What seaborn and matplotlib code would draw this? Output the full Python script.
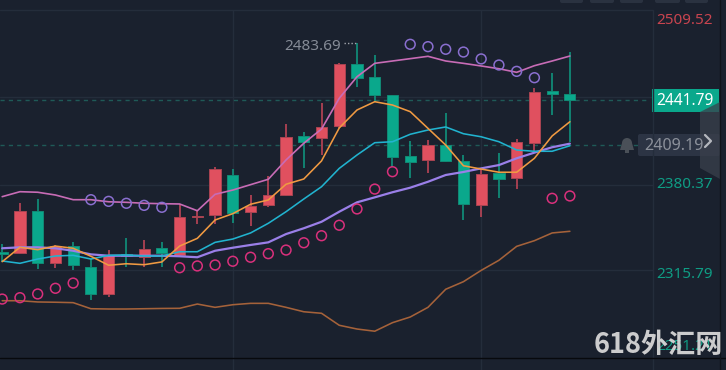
import numpy as np
import pandas as pd
import matplotlib
matplotlib.use('Agg')
import matplotlib.pyplot as plt
from matplotlib.patches import FancyBboxPatch, Polygon, Rectangle, Circle
import seaborn as sns

# candles
opens = [2332.2, 2331.3, 2361.9, 2324.2, 2336.6, 2321.1, 2301.6, 2330.6, 2328.6, 2334.9, 2329.8, 2357.7, 2358.6,
         2387.6, 2361.2, 2365.8, 2373.3, 2416.3, 2414.8, 2423.1, 2468.0, 2458.8, 2445.5, 2401.8, 2398.4, 2409.5,
         2398.2, 2365.8, 2389.0, 2385.8, 2411.2, 2448.9, 2446.5]
highs = [2337.8, 2367.7, 2370.4, 2337.1, 2339.5, 2326.9, 2333.4, 2342.1, 2340.7, 2339.5, 2366.8, 2362.4, 2393.8,
         2392.1, 2373.3, 2387.3, 2424.7, 2419.2, 2439.7, 2468.7, 2483.69, 2474.5, 2445.8, 2412.6, 2413.2, 2432.5,
         2402.1, 2391.9, 2403.5, 2413.7, 2450.6, 2461.5, 2477.1]
lows = [2324.8, 2330.6, 2319.7, 2320.6, 2318.9, 2297.2, 2299.4, 2321.3, 2321.1, 2321.3, 2329.1, 2352.3, 2352.3,
        2353.0, 2351.0, 2364.8, 2372.9, 2393.1, 2402.3, 2421.6, 2451.8, 2440.9, 2393.8, 2385.8, 2389.5, 2397.4,
        2355.2, 2357.6, 2371.3, 2377.6, 2403.7, 2431.1, 2411.9]
closes = [2330.6, 2361.9, 2324.2, 2336.6, 2322.4, 2301.3, 2329.8, 2329.1, 2334.2, 2331.3, 2357.6, 2358.4, 2392.1,
          2360.3, 2365.5, 2373.1, 2415.5, 2411.9, 2422.6, 2468.0, 2458.3, 2445.5, 2401.1, 2397.4, 2409.8, 2398.2,
          2366.8, 2388.3, 2384.9, 2411.7, 2448.2, 2446.5, 2441.79]

# lines
boll_up = [2372.1, 2375.7, 2375.3, 2373.3, 2369.9, 2369.9, 2368.4, 2368.0, 2367.3, 2367.0, 2366.8, 2361.9, 2373.8,
           2376.9, 2380.8, 2384.7, 2398.7, 2410.8, 2421.1, 2443.4, 2459.0, 2468.7, 2470.4, 2472.1, 2473.8, 2470.4,
           2468.7, 2466.8, 2464.8, 2462.2, 2467.0, 2470.4, 2474.0]
ma_fast = [2325.0, 2335.4, 2333.7, 2336.3, 2334.7, 2328.9, 2322.4, 2323.5, 2322.8, 2324.8, 2336.3, 2341.9, 2355.2,
           2359.8, 2366.6, 2369.7, 2381.1, 2384.9, 2398.0, 2421.9, 2434.9, 2440.9, 2438.5, 2433.7, 2421.6, 2409.5,
           2394.5, 2392.1, 2389.8, 2389.8, 2399.9, 2416.1, 2426.4]
ma_mid = [2325.5, 2323.8, 2326.9, 2329.1, 2329.6, 2326.9, 2329.6, 2329.8, 2329.1, 2329.1, 2332.2, 2332.2, 2339.0,
          2341.4, 2345.8, 2352.8, 2361.2, 2370.4, 2379.3, 2392.6, 2402.3, 2411.2, 2411.9, 2417.3, 2420.4, 2422.6,
          2417.7, 2415.5, 2411.9, 2405.9, 2405.0, 2405.0, 2409.0]
ma_slow = [2334.7, 2335.4, 2335.4, 2334.7, 2332.9, 2330.3, 2329.3, 2329.3, 2329.3, 2329.3, 2328.9, 2328.2, 2332.9,
           2335.1, 2337.1, 2339.0, 2345.0, 2349.2, 2353.9, 2361.2, 2368.0, 2371.6, 2375.3, 2378.6, 2382.9, 2387.8,
           2390.0, 2392.6, 2395.0, 2399.9, 2404.0, 2407.9, 2410.5]
boll_low = [2296.7, 2296.7, 2295.8, 2295.6, 2295.3, 2290.9, 2290.7, 2290.7, 2290.9, 2291.1, 2291.2, 2294.3, 2291.9,
            2293.8, 2294.8, 2294.8, 2291.9, 2288.7, 2287.6, 2278.9, 2276.2, 2274.6, 2280.8, 2284.9, 2291.9, 2305.0,
            2310.5, 2318.7, 2326.0, 2336.1, 2340.2, 2345.8, 2347.0]

# SAR dots
sar_up_idx = [5, 6, 7, 8, 9, 23, 24, 25, 26, 27, 28, 29, 30]
sar_up = [2369.9, 2368.7, 2367.3, 2365.8, 2364.4, 2482.5, 2480.8, 2478.9, 2476.9, 2471.9, 2467.5, 2462.9, 2458.3]
sar_dn_idx = [0, 1, 2, 3, 4, 10, 11, 12, 13, 14, 15, 16, 17, 18, 19, 20, 21, 22, 31, 32]
sar_dn = [2297.9, 2298.9, 2301.6, 2305.7, 2309.5, 2320.6, 2321.9, 2322.6, 2325.3, 2328.2, 2330.8, 2333.4, 2338.7,
          2343.8, 2351.4, 2363.2, 2377.6, 2390.2, 2370.9, 2372.6]

grid_prices = [2507.4, 2444.3, 2380.5, 2318.9]
grid_bars = [13, 27]
last_price = 2441.79
alert_price = 2409.19

BG = '#1a212e'
GRID = '#242d3b'
RED = '#e0505f'
TEAL = '#0aa88c'

sns.set_theme(style='dark', rc={'axes.facecolor': BG, 'figure.facecolor': BG})
plt.rcParams['font.family'] = ['Noto Sans', 'DejaVu Sans']

df = pd.DataFrame({'i': np.arange(len(opens)), 'open': opens, 'high': highs, 'low': lows, 'close': closes,
                   'boll_up': boll_up, 'ma_fast': ma_fast, 'ma_mid': ma_mid, 'ma_slow': ma_slow, 'boll_low': boll_low})
up = df[df['close'] >= df['open']]
down = df[df['close'] < df['open']]

fig = plt.figure(figsize=(7.26, 3.7), dpi=100)
ax = fig.add_axes([0, 0, 1, 1])
ax.set_xlim(-0.124, 40.8)
ax.set_ylim(2246.5, 2514.6)
ax.set_xticks([])
ax.set_yticks([])
for s in ax.spines.values():
    s.set_visible(False)

# grid stops at the price scale
for p in grid_prices:
    ax.plot([0, 0.9], [p, p], color=GRID, lw=1, transform=ax.get_yaxis_transform(), zorder=1)
for b in grid_bars:
    ax.plot([b, b], [0, 0.973], color=GRID, lw=1, transform=ax.get_xaxis_transform(), zorder=1)
for p in [last_price, alert_price]:
    ax.plot([0, 0.895], [p, p], color='#1f5a57', lw=1, ls=(0, (3, 3)), transform=ax.get_yaxis_transform(), zorder=1.5)

ax.vlines(up['i'], up['low'], up['high'], color='#c9485a', lw=1.1, zorder=2)
ax.vlines(down['i'], down['low'], down['high'], color='#0f9c84', lw=1.1, zorder=2)
ax.bar(up['i'], up['close'] - up['open'], bottom=up['open'], width=0.63, color=RED, edgecolor='#a94452', lw=0.7, zorder=3)
ax.bar(down['i'], down['close'] - down['open'], bottom=down['open'], width=0.63, color=TEAL, edgecolor='#128a75', lw=0.7, zorder=3)

sns.lineplot(data=df, x='i', y='boll_low', color='#a5623a', lw=1.15, ax=ax, zorder=4)
sns.lineplot(data=df, x='i', y='ma_slow', color='#9a7fe8', lw=1.6, ax=ax, zorder=4)
sns.lineplot(data=df, x='i', y='ma_mid', color='#21b3cf', lw=1.15, ax=ax, zorder=4)
sns.lineplot(data=df, x='i', y='boll_up', color='#c86cb6', lw=1.2, ax=ax, zorder=4)
sns.lineplot(data=df, x='i', y='ma_fast', color='#f09a42', lw=1.15, ax=ax, zorder=4)

sns.scatterplot(x=sar_up_idx, y=sar_up, s=50, facecolor='none', edgecolor='#8a6fd0', linewidth=1.1, ax=ax, zorder=5)
sns.scatterplot(x=sar_dn_idx, y=sar_dn, s=50, facecolor='none', edgecolor='#d9307c', linewidth=1.1, ax=ax, zorder=5)
ax.set_xlabel('')
ax.set_ylabel('')

# overlay in pixels for the price scale furniture
ov = fig.add_axes([0, 0, 1, 1], facecolor='none')
ov.set_xlim(0, 726)
ov.set_ylim(370, 0)
ov.axis('off')

ov.plot([653, 653], [10, 370], color=GRID, lw=1)
ov.plot([0, 726], [358, 358], color='#07090d', lw=1)
ov.plot([720, 720], [0, 370], color='#10141b', lw=1)
for x0, x1 in [(560, 583), (590, 614), (620, 643), (655, 680), (685, 708)]:
    ov.add_patch(FancyBboxPatch((x0 + 2, -6), x1 - x0 - 4, 7, boxstyle='round,pad=2', fc='#2a3240', ec='none'))

ov.text(713, 21, '2509.52', color='#c8444f', fontsize=11, ha='right', va='center')
ov.text(713, 185, '2380.37', color='#0f9c84', fontsize=11, ha='right', va='center')
ov.text(713, 274, '2315.79', color='#0f9c84', fontsize=11, ha='right', va='center')
ov.text(713, 347, '2251.21', color='#0f9c84', fontsize=11, ha='right', va='center')

ov.add_patch(Rectangle((652, 89), 67, 23, fc='#0aa88c', ec='none'))
ov.text(713.5, 101, '2441.79', color='white', fontsize=11.2, ha='right', va='center', fontweight='medium')
ov.add_patch(FancyBboxPatch((640, 136), 78, 18, boxstyle='round,pad=2', fc='#2c3444', ec='none'))
ov.text(703.5, 146, '2409.19', color='#8b909a', fontsize=11.6, ha='right', va='center')

# side tab
ov.add_patch(Polygon([(700, 112), (720, 102), (720, 179), (700, 168)], fc='#3a404c', ec='none', alpha=0.75))
ov.plot([705, 711, 705], [135, 141, 147], color='#b5b8be', lw=1.6)

# bell
ov.add_patch(Circle((627, 143), 5, fc='#4a5058', ec='none'))
ov.add_patch(Polygon([(622, 143), (632, 143), (634, 150), (620, 150)], fc='#4a5058', ec='none'))
ov.add_patch(Rectangle((625, 150), 4, 2.5, fc='#4a5058', ec='none'))

# highest price tag
ov.text(341, 46.5, '2483.69', color='#858b96', fontsize=11, ha='right', va='center')
ov.plot([344, 357], [43, 43], color='#a0a4ab', lw=1, ls=(0, (1, 1.5)))

ov.text(594, 345, '618外汇网', color='#dcdcdc', fontsize=19.5, fontweight='bold', ha='left', va='center',
        family=['Noto Sans CJK SC', 'DejaVu Sans'], alpha=0.92, zorder=10)

fig.savefig('out.png', dpi=100, facecolor=BG)
